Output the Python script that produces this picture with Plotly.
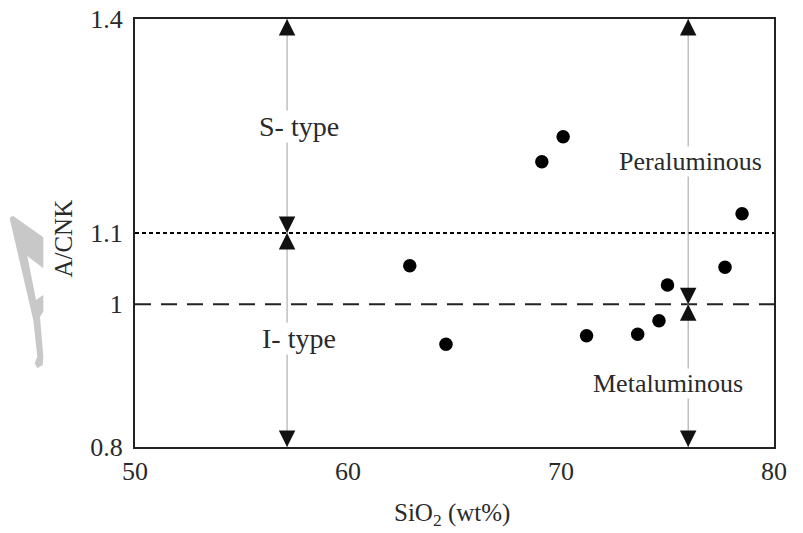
import plotly.graph_objects as go

# Sample data
sio2 = [62.9, 64.6, 69.1, 70.1, 71.2, 73.6, 74.6, 75.0, 77.7, 78.5]
acnk = [1.054, 0.944, 1.200, 1.235, 0.956, 0.958, 0.977, 1.027, 1.052, 1.127]

# Boundary values
x_range = [50, 80]
y_range = [0.8, 1.4]
x_ticks = [50, 60, 70, 80]
y_ticks = [0.8, 1.0, 1.1, 1.4]
y_tick_text = ["0.8", "1", "1.1", "1.4"]
line_st = 1.1      # S/I type boundary
line_pm = 1.0      # peraluminous/metaluminous boundary
x_si = 57.14       # x of S/I arrow column
x_pm = 75.97       # x of Per/Met arrow column

# Field labels
label_x = [57.7, 57.7, 76.1, 75.0]
label_y = [1.249, 0.952, 1.200, 0.889]
label_text = ["S- type", "I- type", "Peraluminous", "Metaluminous"]
label_size = [28, 28, 26, 26]

SERIF = "Liberation Serif, Times New Roman, serif"
TXT = "#2a2a2a"

fig = go.Figure()
fig.add_trace(go.Scatter(
    x=sio2, y=acnk, mode="markers",
    marker=dict(color="black", size=13.5),
    showlegend=False, hoverinfo="x+y"))

shapes = [
    dict(type="line", xref="x", yref="y", x0=x_range[0], x1=x_range[1], y0=line_st, y1=line_st,
         line=dict(color="black", width=2, dash="4px,3px")),
    dict(type="line", xref="x", yref="y", x0=x_range[0], x1=x_range[1], y0=line_pm, y1=line_pm,
         line=dict(color="#222", width=2, dash="16px,10px")),
    dict(type="line", xref="x", yref="y", x0=x_si, x1=x_si, y0=y_range[0], y1=y_range[1],
         line=dict(color="#a0a0a0", width=1)),
    dict(type="line", xref="x", yref="y", x0=x_pm, x1=x_pm, y0=y_range[0], y1=y_range[1],
         line=dict(color="#a0a0a0", width=1)),
]

# faint watermark glyph at the left margin (page pixel -> paper)
def to_paper(xp, yp):
    return (xp - 135) / 639, (447 - yp) / 428

wm = [(10, 217.3), (13.3, 216), (43.3, 237.3), (43.3, 268.3), (27.3, 256), (36, 300),
      (43.3, 295), (43.3, 311.7), (40, 316.7), (43.3, 356.7), (42.7, 365), (37.3, 368.3),
      (34.7, 363.3), (37.3, 356.7), (33.3, 320), (10, 220)]
pts = [to_paper(a, b) for a, b in wm]
path = "M" + " L".join(f"{a:.4f},{b:.4f}" for a, b in pts) + " Z"
shapes.append(dict(type="path", xref="paper", yref="paper", path=path,
                   fillcolor="#c8c8c8", line=dict(width=0), layer="below"))

annotations = []
# arrowheads: (x, y, direction) ; +1 = pointing up, -1 = pointing down
heads = [(x_si, y_range[1], 1), (x_si, line_st, -1), (x_si, line_st, 1), (x_si, y_range[0], -1),
         (x_pm, y_range[1], 1), (x_pm, line_pm, -1), (x_pm, line_pm, 1), (x_pm, y_range[0], -1)]
for hx, hy, d in heads:
    annotations.append(dict(x=hx, y=hy, xref="x", yref="y", ax=0, ay=17 * d, text="",
                            showarrow=True, arrowhead=2, arrowsize=3.3, arrowwidth=1,
                            arrowcolor="#111"))

for lx, ly, t, s in zip(label_x, label_y, label_text, label_size):
    annotations.append(dict(x=lx, y=ly, xref="x", yref="y", text=t, showarrow=False,
                            font=dict(family=SERIF, size=s, color=TXT),
                            bgcolor="white", borderpad=0))

# axis titles
annotations.append(dict(x=0.496, y=-0.157, xref="paper", yref="paper",
                        text="SiO<sub>2</sub> (wt%)", showarrow=False,
                        xanchor="center", yanchor="middle",
                        font=dict(family=SERIF, size=25, color=TXT)))
annotations.append(dict(x=-0.112, y=0.488, xref="paper", yref="paper", text="A/CNK",
                        textangle=-90, showarrow=False, xanchor="center", yanchor="middle",
                        font=dict(family=SERIF, size=25, color=TXT)))

# the page adds an 8px body margin, so the figure is sized/offset to compensate
fig.update_layout(
    width=795, height=525,
    margin=dict(l=127, r=29, t=11, b=86, autoexpand=False),
    plot_bgcolor="white", paper_bgcolor="white",
    shapes=shapes, annotations=annotations,
    xaxis=dict(range=x_range, tickvals=x_ticks, showgrid=False, zeroline=False,
               showline=True, linecolor="#222", linewidth=2, mirror=True, ticks="",
               ticklabelstandoff=0, automargin=False, ticklabeloverflow="allow",
               tickfont=dict(family=SERIF, size=26, color=TXT)),
    yaxis=dict(range=y_range, tickvals=y_ticks, ticktext=y_tick_text, showgrid=False,
               zeroline=False, showline=True, linecolor="#222", linewidth=2, mirror=True,
               ticks="", ticklabelstandoff=5, automargin=False, ticklabeloverflow="allow",
               tickfont=dict(family=SERIF, size=26, color=TXT)),
)

fig.write_html("out.html")
